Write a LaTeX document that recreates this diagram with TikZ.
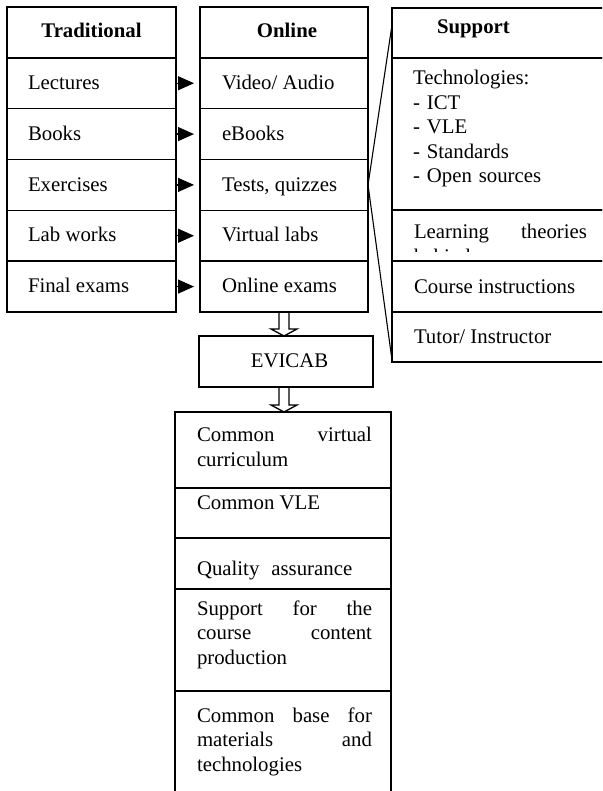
\documentclass[tikz,border=0pt]{standalone}
\usepackage{fontspec}
\setmainfont{Liberation Serif}
\usetikzlibrary{arrows.meta,calc}
\tolerance=10000
\hyphenpenalty=10000
\exhyphenpenalty=10000
\begin{document}
\begin{tikzpicture}[x=1pt,y=-1pt,
  cell/.style={draw, line width=1.6pt, inner sep=0pt, outer sep=0pt, anchor=north west, minimum height=50.83pt},
  txt/.style={anchor=base west, inner sep=0pt, outer sep=0pt, font=\fontsize{20.8}{24.5}\selectfont},
  para/.style={txt, text width=#1, align=justify},
  arr/.style={-{Triangle[length=16pt,width=14pt]}, line width=1.2pt},
  link/.style={line width=1.1pt},
  hollow/.style={line width=1.3pt}]
\useasboundingbox (0,0) rectangle (602,791);
\clip (0,0) rectangle (602,791);

% Traditional and Online columns
\foreach \i in {0,...,5} {
  \node[cell, minimum width=169pt] (t\i) at (7, 7+50.83*\i) {};
  \node[cell, minimum width=168pt] (o\i) at (200, 7+50.83*\i) {};
}
\node[txt, anchor=base] (th) at (91.5,37.5) {\bfseries Traditional};
\node[txt, anchor=base] (oh) at (287,37.5) {\bfseries Online};
\node[txt] (tt1) at (28,89.5) {Lectures};
\node[txt] (tt2) at (28,140.3) {Books};
\node[txt] (tt3) at (28,191.1) {Exercises};
\node[txt] (tt4) at (28,241.9) {Lab works};
\node[txt] (tt5) at (28,292.8) {Final exams};
\node[txt] (ot1) at (222,89.5) {Video/ Audio};
\node[txt] (ot2) at (222,140.3) {eBooks};
\node[txt] (ot3) at (222,191.1) {Tests, quizzes};
\node[txt] (ot4) at (222,241.9) {Virtual labs};
\node[txt] (ot5) at (222,292.8) {Online exams};
\foreach \i in {1,...,5} {
  \draw[arr] (t\i.east) -- ([xshift=-6pt]o\i.west);
}

% Support column
\node[cell, minimum width=218pt, minimum height=50pt] (s0) at (392,8) {};
\node[cell, minimum width=218pt, minimum height=152pt] (s1) at (392,58) {};
\node[cell, minimum width=218pt, minimum height=51pt] (s2) at (392,210) {};
\node[cell, minimum width=218pt, minimum height=51pt] (s3) at (392,261) {};
\node[cell, minimum width=218pt, minimum height=50pt] (s4) at (392,312) {};
\node[txt] (sh) at (437,34) {\bfseries Support};
\node[txt, text width=180pt, align=left] (st) at (413,85) {Technologies:\\- ICT\\- VLE\\- Standards\\- Open sources};
\begin{scope}
  \clip (392,210) rectangle (610,252);
  \node[para=173pt] (sl) at (414,239) {Learning theories\linebreak behind};
\end{scope}
\node[txt] (sc) at (414,293.5) {Course instructions};
\node[txt] (su) at (414,343.5) {Tutor/ Instructor};
\draw[link] (o3.east) -- ($(s0.north west)!0.34!(s0.south west)$);
\draw[link] (o3.east) -- ($(s4.north west)!0.96!(s4.south west)$);

% EVICAB
\node[cell, minimum width=174pt, minimum height=51pt] (ev) at (199,336) {};
\node[txt, anchor=base] (evt) at (289.5,367) {EVICAB};

% Bottom list
\node[cell, minimum width=216pt, minimum height=76pt] (b0) at (175,412) {};
\node[cell, minimum width=216pt, minimum height=50pt] (b1) at (175,488) {};
\node[cell, minimum width=216pt, minimum height=51pt] (b2) at (175,538) {};
\node[cell, minimum width=216pt, minimum height=102pt] (b3) at (175,589) {};
\node[cell, minimum width=216pt, minimum height=120pt] (b4) at (175,691) {};
\node[para=175pt] (bt0) at (197,441.5) {Common virtual\linebreak curriculum};
\node[txt] (bt1) at (197,509.5) {Common VLE};
\node[txt] (bt2) at (197,575.5) {Quality\hspace{12pt}assurance};
\node[para=175pt] (bt3) at (197,615) {Support for the\linebreak course content\linebreak production};
\node[para=175pt] (bt4) at (197,722) {Common base for\linebreak materials and\linebreak technologies};

% hollow arrows
\coordinate (a1) at (o5.south);
\coordinate (a2) at (o5.south |- ev.south);
\draw[hollow] ([xshift=-5pt]a1) -- ++(0,17) -- ++(-8,0) -- (a1 |- ev.north) -- ++(13,-7) -- ++(-8,0) -- ([xshift=5pt]a1);
\draw[hollow] ([xshift=-5pt]a2) -- ++(0,18) -- ++(-8,0) -- (a2 |- b0.north) -- ++(13,-7) -- ++(-8,0) -- ([xshift=5pt]a2);
\end{tikzpicture}
\end{document}
